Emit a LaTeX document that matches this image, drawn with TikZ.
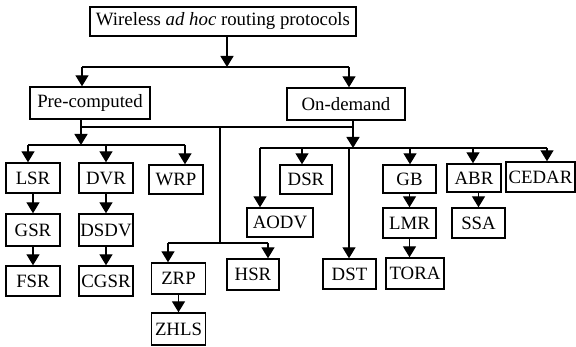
\documentclass[tikz,border=0pt]{standalone}
\usepackage{fontspec}
\setmainfont{Liberation Serif}
\usetikzlibrary{arrows.meta, positioning, calc}
\tikzset{
  box/.style={
    rectangle, draw=black, fill=white, line width=1.4pt,
    inner sep=0pt, align=center, font=\fontsize{18.8}{21}\selectfont,
  },
  arrow/.style={
    -{Triangle[length=11pt, width=13pt]}, line width=1.4pt, draw=black,
  },
  link/.style={
    line width=1.4pt, draw=black,
  }
}

\begin{document}
\begin{tikzpicture}[x=1pt, y=-1pt]
  \useasboundingbox (0,0) rectangle (576,347);

  % root and the two classes
  \node[box, minimum width=266pt, minimum height=29pt] (root) at (223,21.5)
    {Wireless \textit{ad hoc} routing protocols};
  \node[box, minimum width=120pt, minimum height=32pt] (pre) at (90,103) {Pre-computed};
  \node[box, minimum width=118pt, minimum height=32pt] (ond) at (346,104) {On-demand};

  % pre-computed protocols
  \node[box, minimum width=54pt, minimum height=30pt] (lsr)  at (33,178)  {LSR};
  \node[box, minimum width=54pt, minimum height=30pt] (dvr)  at (106,178) {DVR};
  \node[box, minimum width=54pt, minimum height=29pt] (wrp)  at (176,179.5) {WRP};
  \node[box, minimum width=54pt, minimum height=32pt] (gsr)  at (33,230)  {GSR};
  \node[box, minimum width=54pt, minimum height=32pt] (dsdv) at (106,230) {DSDV};
  \node[box, minimum width=54pt, minimum height=30pt] (fsr)  at (33,281)  {FSR};
  \node[box, minimum width=54pt, minimum height=30pt] (cgsr) at (106,281) {CGSR};

  % hybrid branch
  \node[box, minimum width=54pt, minimum height=31pt] (zrp)  at (178.5,278.5) {ZRP};
  \node[box, minimum width=54pt, minimum height=32pt] (zhls) at (178.5,329)   {ZHLS};
  \node[box, minimum width=52pt, minimum height=31pt] (hsr)  at (253,274.5)   {HSR};

  % on-demand protocols
  \node[box, minimum width=66pt, minimum height=29pt] (aodv)  at (280,222.5) {AODV};
  \node[box, minimum width=52pt, minimum height=29pt] (dsr)   at (306,179.5) {DSR};
  \node[box, minimum width=53pt, minimum height=30pt] (dst)   at (349.5,274) {DST};
  \node[box, minimum width=53pt, minimum height=28pt] (gb)    at (409.5,179) {GB};
  \node[box, minimum width=53pt, minimum height=30pt] (lmr)   at (409.5,223) {LMR};
  \node[box, minimum width=58pt, minimum height=31pt] (tora)  at (415,273.5) {TORA};
  \node[box, minimum width=54pt, minimum height=28pt] (abr)   at (474,178)   {ABR};
  \node[box, minimum width=53pt, minimum height=30pt] (ssa)   at (478.5,223) {SSA};
  \node[box, minimum width=69pt, minimum height=30pt] (cedar) at (540.5,177) {CEDAR};

  % root to classes
  \coordinate (j0) at (227,67);
  \coordinate (jpre) at (82,67);
  \coordinate (jond) at (349,67);
  \draw[arrow] (root.south -| j0) -- (j0);
  \draw[link] (jpre) -- (jond);
  \draw[arrow] (jpre) -- (jpre |- pre.north);
  \draw[arrow] (jond) -- (jond |- ond.north);

  % shared bar under the classes
  \coordinate (hp) at (81,127);
  \coordinate (ho) at (353,127);
  \coordinate (hh) at (220,127);
  \draw[link] (hp |- pre.south) -- (hp) -- (ho);
  \draw[link] (ho |- ond.south) -- (ho);

  % pre-computed bar
  \coordinate (bp)  at (81,145);
  \coordinate (bpl) at (28,145);
  \coordinate (bpm) at (106,145);
  \coordinate (bpr) at (185,145);
  \draw[arrow] (hp) -- (bp);
  \draw[link] (bpl) -- (bpr);
  \draw[arrow] (bpl) -- (bpl |- lsr.north);
  \draw[arrow] (bpm) -- (bpm |- dvr.north);
  \draw[arrow] (bpr) -- (bpr |- wrp.north);
  \draw[arrow] (lsr) -- (gsr);
  \draw[arrow] (gsr) -- (fsr);
  \draw[arrow] (dvr) -- (dsdv);
  \draw[arrow] (dsdv) -- (cgsr);

  % hybrid bar
  \coordinate (bh)  at (220,243);
  \coordinate (bhl) at (168,243);
  \coordinate (bhr) at (268,243);
  \draw[link] (hh) -- (bh);
  \draw[link] (bhl) -- (bhr);
  \draw[arrow] (bhl) -- (bhl |- zrp.north);
  \draw[arrow] (bhr) -- (bhr |- hsr.north);
  \draw[arrow] (zrp) -- (zhls);

  % on-demand bar
  \coordinate (bo)  at (353,148);
  \coordinate (boa) at (260,148);
  \coordinate (bod) at (302,148);
  \coordinate (bos) at (349,148);
  \coordinate (bog) at (410,148);
  \coordinate (bob) at (473,148);
  \coordinate (boc) at (547,148);
  \draw[arrow] (ho) -- (bo);
  \draw[link] (boa) -- (boc);
  \draw[arrow] (boa) -- (boa |- aodv.north);
  \draw[arrow] (bod) -- (bod |- dsr.north);
  \draw[arrow] (bos) -- (bos |- dst.north);
  \draw[arrow] (bog) -- (bog |- gb.north);
  \draw[arrow] (bob) -- (bob |- abr.north);
  \draw[arrow] (boc) -- (boc |- cedar.north);
  \draw[arrow] (gb) -- (lmr);
  \draw[arrow] (lmr.south) -- (lmr.south |- tora.north);
  \draw[arrow] (ssa.north |- abr.south) -- (ssa.north);

\end{tikzpicture}
\end{document}
